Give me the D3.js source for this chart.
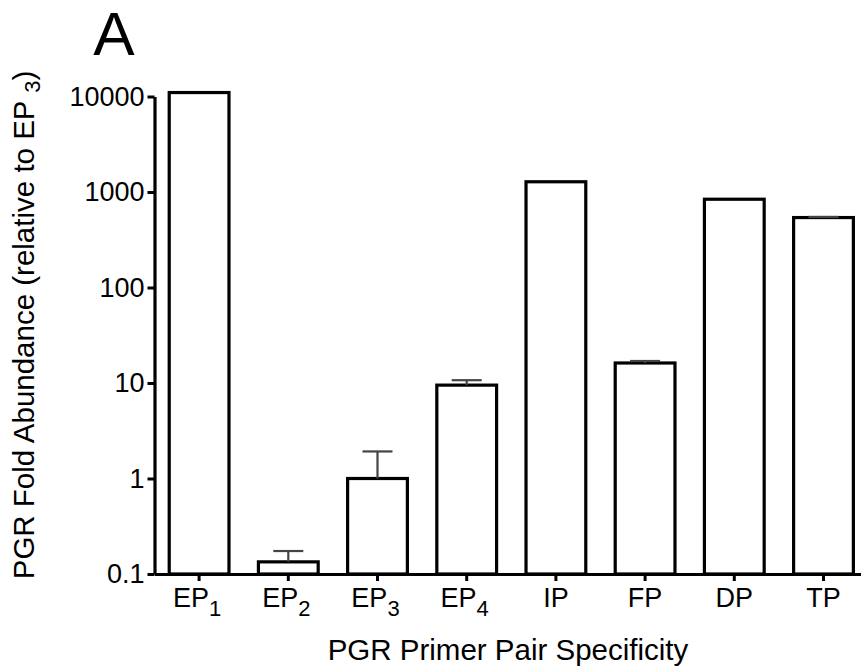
<!DOCTYPE html>
<html>
<head>
<meta charset="utf-8">
<script src="https://cdn.jsdelivr.net/npm/d3@7"></script>
<style>
  html, body { margin: 0; padding: 0; background: #fff; }
  svg { display: block; font-family: Arial, "Liberation Sans", sans-serif; }
</style>
</head>
<body>
<svg id="chart" width="861" height="671"></svg>
<script>
// ---- Data ----
const categories = ["EP1", "EP2", "EP3", "EP4", "IP", "FP", "DP", "TP"];
const labelBase  = ["EP", "EP", "EP", "EP", "IP", "FP", "DP", "TP"];
const labelSub   = ["1", "2", "3", "4", "", "", "", ""];
const values     = [11000, 0.134, 1.0, 9.5, 1280, 16.2, 840, 540];
const errUpper   = [null, 0.174, 1.92, 10.7, null, 17.0, null, 548];
const yTicks     = [0.1, 1, 10, 100, 1000, 10000];
const panelLabel = "A";
const xTitle = "PGR Primer Pair Specificity";
const yTitleMain = "PGR Fold Abundance (relative to EP ";
const yTitleSub = "3";
const yTitleEnd = ")";

// ---- Layout ----
const svg = d3.select("#chart");
const axisX = 154.5, axisBottom = 574, axisTop = 96.5;
const step = 89.2;

const x = d3.scaleBand()
  .domain(categories)
  .range([axisX, axisX + step * categories.length])
  .paddingInner(0.33)
  .paddingOuter(0.165);

const y = d3.scaleLog()
  .domain([0.1, 10000])
  .range([axisBottom, axisTop]);

// Bars
svg.append("g").selectAll("rect")
  .data(categories)
  .join("rect")
  .attr("x", d => x(d))
  .attr("width", x.bandwidth())
  .attr("y", (d, i) => y(values[i]))
  .attr("height", (d, i) => axisBottom - y(values[i]))
  .attr("fill", "#fff")
  .attr("stroke", "#000")
  .attr("stroke-width", 3.2);

// Error bars (upper only)
const eg = svg.append("g").attr("stroke", "#444").attr("stroke-width", 2.2);
categories.forEach((c, i) => {
  if (errUpper[i] == null) return;
  const cx = x(c) + x.bandwidth() / 2;
  eg.append("line")
    .attr("x1", cx).attr("x2", cx)
    .attr("y1", y(values[i])).attr("y2", y(errUpper[i]));
  eg.append("line")
    .attr("x1", cx - 15).attr("x2", cx + 15)
    .attr("y1", y(errUpper[i])).attr("y2", y(errUpper[i]));
});

// Y axis
const yAxis = svg.append("g")
  .attr("transform", `translate(${axisX},0)`)
  .call(d3.axisLeft(y).tickValues(yTicks).tickFormat(d => d3.format("")(d)).tickSize(7).tickSizeOuter(0).tickPadding(3));
yAxis.select(".domain").attr("stroke-width", 3.2);
yAxis.selectAll(".tick line").attr("stroke-width", 3);
yAxis.selectAll("text").attr("font-size", 27).attr("fill", "#000")
  .attr("font-family", "Arial, 'Liberation Sans', sans-serif");

// X axis
const xAxis = svg.append("g")
  .attr("transform", `translate(0,${axisBottom})`)
  .call(d3.axisBottom(x).tickSize(7).tickSizeOuter(0).tickFormat(""));
xAxis.select(".domain").attr("stroke-width", 3.2);
xAxis.selectAll(".tick line").attr("stroke-width", 3);

// X tick labels with subscripts
const lg = svg.append("g")
  .attr("font-size", 27)
  .attr("fill", "#000");
categories.forEach((c, i) => {
  const cx = x(c) + x.bandwidth() / 2;
  const t = lg.append("text")
    .attr("x", cx - (labelSub[i] ? 2 : 0))
    .attr("y", 607)
    .attr("text-anchor", "middle");
  t.append("tspan").text(labelBase[i]);
  if (labelSub[i]) {
    t.append("tspan").attr("font-size", 22).attr("dy", 9).text(labelSub[i]);
  }
});

// X title
svg.append("text")
  .attr("x", 508)
  .attr("y", 660)
  .attr("text-anchor", "middle")
  .attr("font-size", 29.5)
  .text(xTitle);

// Y title
const yt = svg.append("text")
  .attr("transform", `translate(34,325) rotate(-90)`)
  .attr("text-anchor", "middle")
  .attr("font-size", 29.5);
yt.append("tspan").text(yTitleMain);
yt.append("tspan").attr("font-size", 22).attr("dy", 6).text(yTitleSub);
yt.append("tspan").attr("dy", -6).text(yTitleEnd);

// Panel label
svg.append("text")
  .attr("x", 114)
  .attr("y", 55)
  .attr("text-anchor", "middle")
  .attr("font-size", 62)
  .text(panelLabel);
</script>
</body>
</html>
